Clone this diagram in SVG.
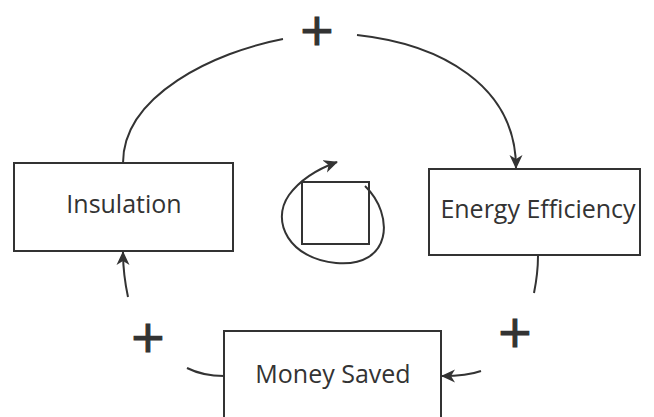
<svg xmlns="http://www.w3.org/2000/svg" width="654" height="417" viewBox="0 0 654 417">
  <style>
    .box { fill: #ffffff; stroke: #333333; stroke-width: 2; }
    .label { font-family: "Open Sans", "Liberation Sans", sans-serif; font-size: 25px; fill: #333333; text-anchor: middle; }
    .sign { font-family: "DejaVu Sans", "Liberation Sans", sans-serif; font-size: 44px; fill: #333333; stroke: #333333; stroke-width: 1.2; text-anchor: middle; }
    .link { fill: none; stroke: #333333; stroke-width: 2; }
  </style>
  <defs>
    <marker id="arrow" viewBox="0 0 14 14" refX="13" refY="7" markerWidth="14" markerHeight="14" markerUnits="userSpaceOnUse" orient="auto">
      <path d="M0,0.5 L14,7 L0,13.5 L4,7 z" fill="#333333"/>
    </marker>
  </defs>
  <rect width="654" height="417" fill="#ffffff"/>

  <g id="connectors">
    <path class="link" d="M123,163 C123,95 215,52 283,39"/>
    <path class="link" d="M357,35 C440,44 516,85 516,168" marker-end="url(#arrow)"/>
    <path class="link" d="M538,256 C538,272 536,283 534,293"/>
    <path class="link" d="M481,371 C470,375 458,376 442,376" marker-end="url(#arrow)"/>
    <path class="link" d="M224,376 C210,376 197,373 187,368"/>
    <path class="link" d="M128,297 C125,283 123,270 123,252" marker-end="url(#arrow)"/>
  </g>

  <g id="signs">
    <text class="sign" x="317" y="45">+</text>
    <text class="sign" x="148" y="352">+</text>
    <text class="sign" x="515" y="347">+</text>
  </g>

  <g id="loop-icon">
    <rect x="302" y="182" width="67" height="62" fill="none" stroke="#333333" stroke-width="2"/>
    <path class="link" d="M365,186 C395,215 392,268 336,263 C290,259 270,222 289,195 C300,180 315,170 337,162" marker-end="url(#arrow)"/>
  </g>

  <g id="insulation">
    <rect class="box" x="14" y="163" width="219" height="88"/>
    <text class="label" x="124" y="213">Insulation</text>
  </g>

  <g id="energy-efficiency">
    <rect class="box" x="429" y="169" width="211" height="86"/>
    <text class="label" x="538" y="218">Energy Efficiency</text>
  </g>

  <g id="money-saved">
    <rect class="box" x="224" y="331" width="217" height="100"/>
    <text class="label" x="333" y="383">Money Saved</text>
  </g>
</svg>
